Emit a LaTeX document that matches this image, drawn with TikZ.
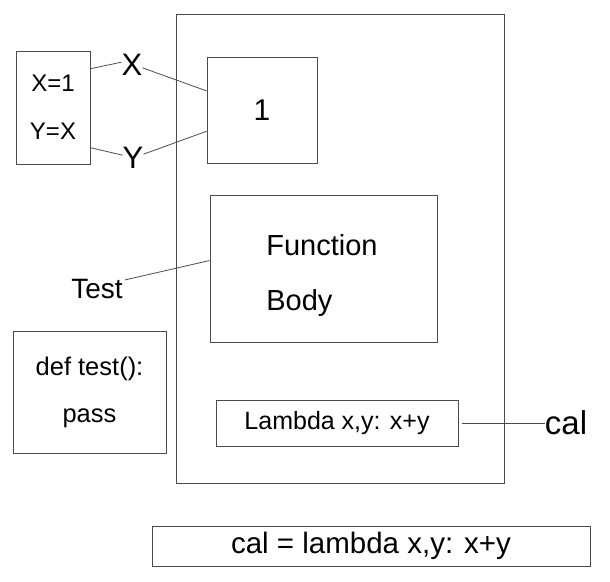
\documentclass[tikz,border=0pt]{standalone}
\usepackage{fontspec}
\setmainfont{Liberation Sans}
\usetikzlibrary{positioning}

\begin{document}
\begin{tikzpicture}[x=1pt,y=-1pt,
    box/.style 2 args={draw=black!70, line width=0.9pt, minimum width=#1, minimum height=#2, inner sep=0pt},
    lbl/.style={inner sep=0pt},
    link/.style={draw=black!70, line width=0.8pt}]
      \useasboundingbox (0,0) rectangle (610,581);
      % frame and boxes
      \node[box={328}{469}] (frame) at (340,248.5) {};
      \node[box={74}{113}, align=center, font=\fontsize{24}{48}\selectfont] (vars) at (53,107.5) {X=1\\Y=X};
      \node[box={110}{106}, font=\fontsize{30}{36}\selectfont] (one) at (262,110) {1};
      \node[box={227}{147}] (body) at (323.5,268.5) {};
      \node[lbl, align=left, font=\fontsize{29}{55}\selectfont] (bodytext) at (322,275) {Function\\Body};
      \node[box={242}{46}, font=\fontsize{25}{30}\selectfont] (lam) at (337,423) {Lambda x,y: x+y};
      \node[box={153}{122}, align=center, font=\fontsize{25.5}{47}\selectfont] (deffn) at (89.5,392) {def test():\\pass};
      \node[box={438}{40}, font=\fontsize{29.5}{35}\selectfont] (code) at (371,546) {cal = lambda x,y: x+y};
      % names
      \node[lbl, font=\fontsize{31}{36}\selectfont] (xname) at (132,65) {X};
      \node[lbl, font=\fontsize{31}{36}\selectfont] (yname) at (133,158) {Y};
      \node[font=\fontsize{28}{34}\selectfont, inner sep=2pt] (test) at (97,289) {Test};
      \node[lbl, font=\fontsize{33}{40}\selectfont] (cal) at (566,423) {cal};
      % bindings
      \draw[link] (vars.46) -- (xname.165);
      \draw[link] (xname.-15) -- (one.161);
      \draw[link] (vars.-47) -- (yname.165);
      \draw[link] (yname.20) -- (one.-159);
      \draw[link] (test.18) -- (body.176);
      \draw[link] (lam.east) ++(4,0) -- (cal.west);
\end{tikzpicture}
\end{document}
